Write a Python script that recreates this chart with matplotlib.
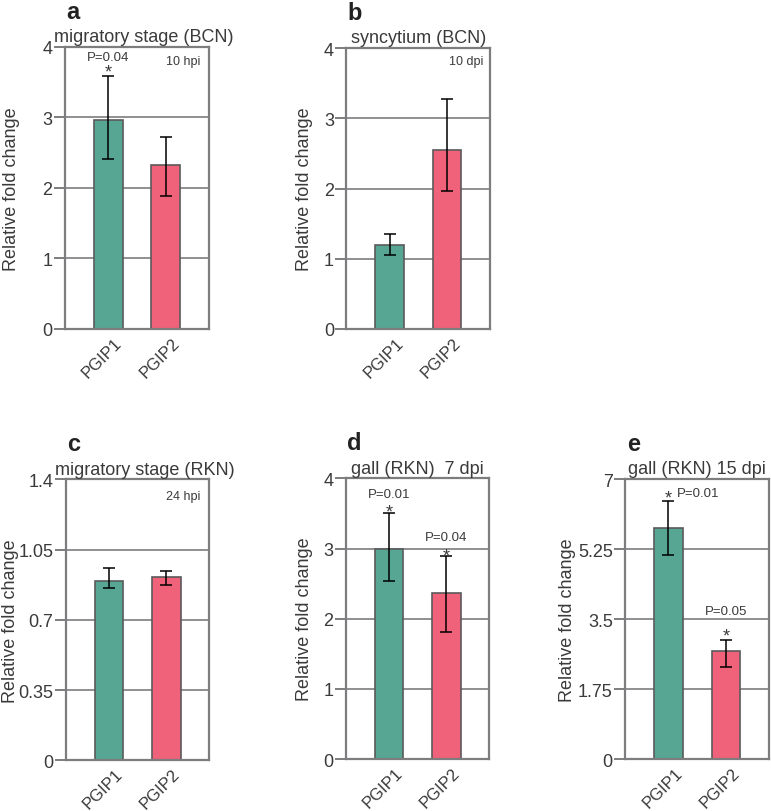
import matplotlib
matplotlib.use('Agg')
import matplotlib.pyplot as plt
import matplotlib.transforms as mtransforms

plt.rcParams['font.family'] = ['Liberation Sans', 'DejaVu Sans']

genes = ['PGIP1', 'PGIP2']
green = '#56a693'
pink = '#f06279'
grey = '#7d7d80'
text_col = '#3a3a3a'

# values: bar heights and error bar ends
a_vals = [2.97, 2.32]
a_lo = [2.41, 1.89]
a_hi = [3.59, 2.73]

b_vals = [1.20, 2.55]
b_lo = [1.05, 1.97]
b_hi = [1.35, 3.28]

c_vals = [0.892, 0.912]
c_lo = [0.859, 0.872]
c_hi = [0.959, 0.945]

d_vals = [3.00, 2.36]
d_lo = [2.54, 1.81]
d_hi = [3.50, 2.90]

e_vals = [5.78, 2.69]
e_lo = [5.10, 2.29]
e_hi = [6.46, 2.98]

a_ticks = [0, 1, 2, 3, 4]
c_ticks = [0, 0.35, 0.7, 1.05, 1.4]
c_ticklabels = ['0', '0.35', '0.7', '1.05', '1.4']
e_ticks = [0, 1.75, 3.5, 5.25, 7]
e_ticklabels = ['0', '1.75', '3.5', '5.25', '7']

fig = plt.figure(figsize=(7.71, 8.12), dpi=100)


def panel(rect, letter, title, vals, lo, hi, ticks, ticklabels,
          title_x=0.5, ylab_x=-0.3):
    ax = fig.add_axes(rect)
    x = range(len(genes))
    ax.bar(x, vals, width=0.5, color=[green, pink], edgecolor='#5a5a5a',
           linewidth=1.2, zorder=2)
    err = [[v - l for v, l in zip(vals, lo)], [h - v for v, h in zip(vals, hi)]]
    ax.errorbar(x, vals, yerr=err, fmt='none', ecolor='black', elinewidth=1.1,
                capsize=4, capthick=1.1, zorder=3)
    ax.set_xlim(-0.75, 1.75)
    ax.set_ylim(ticks[0], ticks[-1])
    ax.set_yticks(ticks)
    ax.set_yticklabels(ticklabels)
    ax.yaxis.grid(True, color=grey, linewidth=1.2)
    ax.set_axisbelow(True)
    for s in ax.spines.values():
        s.set_color(grey)
        s.set_linewidth(1.6)
    ax.tick_params(axis='y', length=8, width=1.4, color=grey, labelsize=13,
                   labelcolor=text_col, pad=1)
    ax.tick_params(axis='x', length=0, labelsize=12, labelcolor=text_col, pad=4)
    ax.set_xticks(list(x))
    ax.set_xticklabels(genes, rotation=45, ha='right', rotation_mode='anchor')
    shift = mtransforms.ScaledTranslation(6 / 100, 0, fig.dpi_scale_trans)
    for lab in ax.get_xticklabels():
        lab.set_transform(lab.get_transform() + shift)
    ax.set_ylabel('Relative fold change', fontsize=13, color=text_col)
    ax.yaxis.set_label_coords(ylab_x, 0.5)
    ax.set_title(title, fontsize=13, color=text_col, pad=4, x=title_x)
    ax.text(0.01, 1.085, letter, transform=ax.transAxes, fontsize=17,
            fontweight='bold', color='#222222', ha='left', va='bottom')
    return ax


ax_a = panel([0.0843, 0.5936, 0.1868, 0.3473], 'a', 'migratory stage (BCN)',
             a_vals, a_lo, a_hi, a_ticks, [str(t) for t in a_ticks],
             title_x=0.55, ylab_x=-0.309)
ax_b = panel([0.4494, 0.5936, 0.1860, 0.3460], 'b', 'syncytium (BCN)',
             b_vals, b_lo, b_hi, a_ticks, [str(t) for t in a_ticks],
             ylab_x=-0.231)
ax_c = panel([0.0856, 0.0624, 0.1860, 0.3460], 'c', 'migratory stage (RKN)',
             c_vals, c_lo, c_hi, c_ticks, c_ticklabels,
             title_x=0.55, ylab_x=-0.327)
ax_d = panel([0.4488, 0.0640, 0.1860, 0.3457], 'd', 'gall (RKN)  7 dpi',
             d_vals, d_lo, d_hi, a_ticks, [str(t) for t in a_ticks],
             ylab_x=-0.227)
ax_e = panel([0.8110, 0.0640, 0.1868, 0.3448], 'e', 'gall (RKN) 15 dpi',
             e_vals, e_lo, e_hi, e_ticks, e_ticklabels, ylab_x=-0.344)

small = dict(fontsize=9.5, color=text_col, ha='center', va='center')
star = dict(fontsize=13, color=text_col, ha='center', va='center')

ax_a.text(0, 3.86, 'P=0.04', **small)
ax_a.text(0, 3.64, '*', **star)
ax_a.text(1.30, 3.80, '10 hpi', fontsize=9, color=text_col, ha='center', va='center')

ax_b.text(1.33, 3.82, '10 dpi', fontsize=9, color=text_col, ha='center', va='center')

ax_c.text(1.29, 1.315, '24 hpi', fontsize=9, color=text_col, ha='center', va='center')

ax_d.text(0, 3.78, 'P=0.01', **small)
ax_d.text(0, 3.52, '*', **star)
ax_d.text(1, 3.16, 'P=0.04', **small)
ax_d.text(1, 2.89, '*', **star)

ax_e.text(0, 6.52, '*', **star)
ax_e.text(0.14, 6.64, 'P=0.01', fontsize=9.5, color=text_col, ha='left', va='center')
ax_e.text(1, 3.69, 'P=0.05', **small)
ax_e.text(1, 3.07, '*', **star)

fig.savefig('out.png', dpi=100)
